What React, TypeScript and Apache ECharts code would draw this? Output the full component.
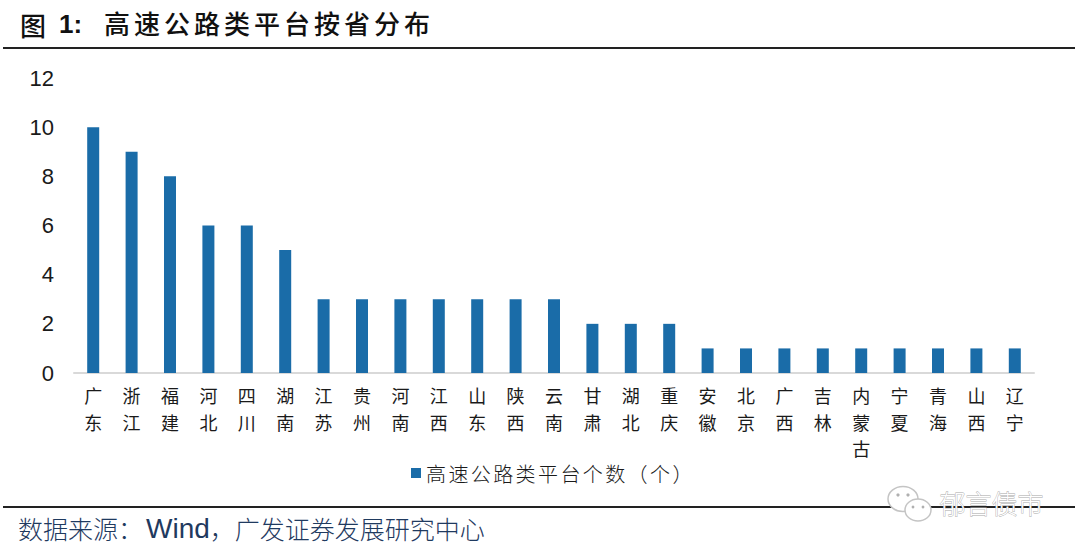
import React, { useEffect, useRef } from "react";
import * as echarts from "echarts";

const provinces = ["广东","浙江","福建","河北","四川","湖南","江苏","贵州","河南","江西","山东","陕西","云南","甘肃","湖北","重庆","安徽","北京","广西","吉林","内蒙古","宁夏","青海","山西","辽宁"];
const counts = [10,9,8,6,6,5,3,3,3,3,3,3,3,2,2,2,1,1,1,1,1,1,1,1,1];
const yTicks = [0,2,4,6,8,10,12];
const seriesName = "高速公路类平台个数（个）";
const titleText = "高速公路类平台按省分布";
const watermark = "郁言债市";

const CJK = '"Noto Sans CJK SC", "Liberation Sans", sans-serif';
const LATIN = '"Liberation Sans", "Noto Sans CJK SC", sans-serif';
const BLUE = "#1a6ca8";

export default function App() {
  const ref = useRef<HTMLDivElement>(null);
  useEffect(() => {
    const chart = echarts.init(ref.current!, null, { renderer: "svg" });
    chart.setOption({
      animation: false,
      backgroundColor: "#ffffff",
      grid: { left: 74, right: 46, top: 78, bottom: 177 },
      legend: {
        show: true,
        data: [seriesName],
        left: 406,
        top: 458,
        icon: "rect",
        itemWidth: 10,
        itemHeight: 10,
        itemGap: 6,
        textStyle: { fontFamily: CJK, fontSize: 20, fontWeight: 300, color: "#1a1a1a" },
      },
      xAxis: {
        type: "category",
        data: provinces,
        axisLine: { lineStyle: { color: "#d9d9d9", width: 2 } },
        axisTick: { show: false },
        axisLabel: {
          interval: 0,
          margin: 9,
          fontFamily: CJK,
          fontSize: 18,
          fontWeight: 400,
          color: "#1a1a1a",
          lineHeight: 26.5,
          formatter: (v: string) => v.split("").join("\n"),
        },
      },
      yAxis: {
        type: "value",
        min: 0,
        max: 12,
        interval: 2,
        splitLine: { show: false },
        axisLine: { show: false },
        axisTick: { show: false },
        axisLabel: {
          margin: 20,
          fontFamily: LATIN,
          fontSize: 22,
          color: "#1a1a1a",
          formatter: (v: number) => (yTicks.includes(v) ? String(v) : ""),
        },
      },
      series: [
        { type: "bar", name: seriesName, data: counts, barWidth: 12, itemStyle: { color: BLUE } },
      ],
      graphic: [
        {
          type: "text", left: 20, top: 11,
          style: {
            text: "{a|图}{b|1:}",
            rich: {
              a: { font: `500 26px ${CJK}`, fill: "#111111", color: "#111111" },
              b: { font: `bold 26px ${LATIN}`, fill: "#111111", color: "#111111", padding: [0, 0, 0, 13] },
            },
          },
        },
        { type: "text", left: 104, top: 9, style: { text: titleText, font: `500 26px ${CJK}`, fill: "#111111" } },
        { type: "line", shape: { x1: 3, y1: 48, x2: 1075, y2: 48 }, style: { stroke: "#222222", lineWidth: 2 } },
        { type: "line", shape: { x1: 3, y1: 507, x2: 1075, y2: 507 }, style: { stroke: "#222222", lineWidth: 2 } },
        {
          type: "text", left: 18, top: 514,
          style: {
            text: "{a|数据来源：}{b|Wind}{a|，广发证券发展研究中心}",
            rich: {
              a: { font: `300 25px ${CJK}`, fill: "#1f3a5f", color: "#1f3a5f" },
              b: { font: `400 28px ${LATIN}`, fill: "#1f3a5f", color: "#1f3a5f", padding: [0, 0, 0, 3] },
            },
          },
        },
        { type: "ellipse", shape: { cx: 903, cy: 499, rx: 15, ry: 12.5 }, style: { fill: "#ffffff", stroke: "#c4c4c4", lineWidth: 1.5 } },
        { type: "ellipse", shape: { cx: 918, cy: 510, rx: 13, ry: 11 }, style: { fill: "#ffffff", stroke: "#c4c4c4", lineWidth: 1.5 } },
        { type: "circle", shape: { cx: 898, cy: 495, r: 1.6 }, style: { fill: "#b0b0b0" } },
        { type: "circle", shape: { cx: 908, cy: 495, r: 1.6 }, style: { fill: "#b0b0b0" } },
        { type: "circle", shape: { cx: 913, cy: 507, r: 1.4 }, style: { fill: "#b0b0b0" } },
        { type: "circle", shape: { cx: 923, cy: 507, r: 1.4 }, style: { fill: "#b0b0b0" } },
        { type: "text", left: 939, top: 489, style: { text: watermark, font: `300 26px ${CJK}`, fill: "#ffffff", stroke: "#a8a8a8", lineWidth: 0.8 } },
      ],
    });
    // Widen the CJK tracking of the strings the reference spaces out.
    const spacing: Record<string, string> = { [titleText]: "4px", [seriesName]: "2.4px" };
    ref.current!.querySelectorAll("text").forEach((t) => {
      const s = spacing[t.textContent || ""];
      if (s) (t as SVGTextElement).style.letterSpacing = s;
    });
    return () => chart.dispose();
  }, []);
  return <div ref={ref} style={{ width: 1080, height: 550, position: "absolute", left: 0, top: 0 }} />;
}
